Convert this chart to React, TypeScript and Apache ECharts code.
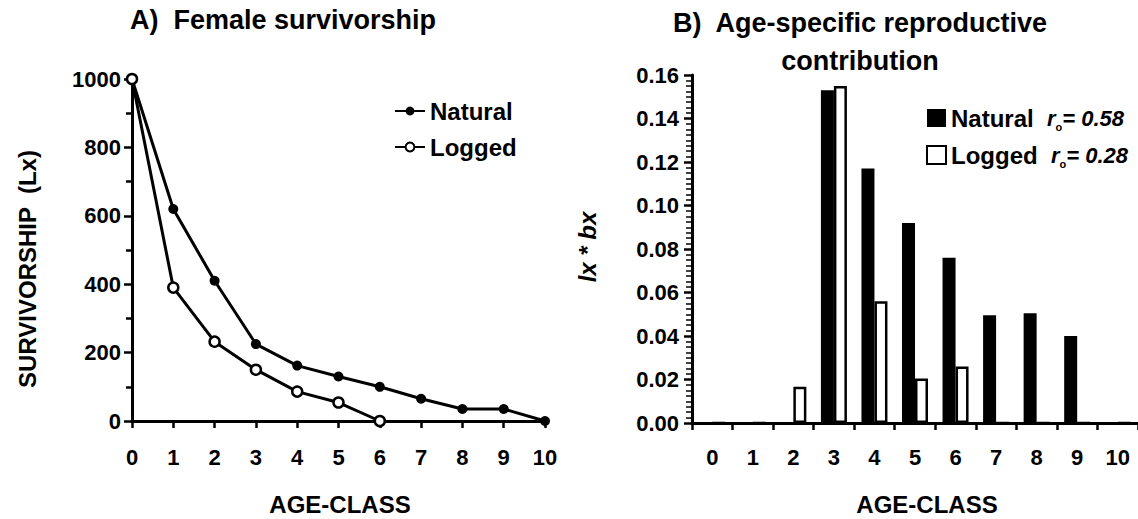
import React, { useEffect, useRef } from "react";
import * as echarts from "echarts";

const ages = [0, 1, 2, 3, 4, 5, 6, 7, 8, 9, 10];
const ageLabels = ["0", "1", "2", "3", "4", "5", "6", "7", "8", "9", "10"];
const naturalLx = [1000, 620, 410, 225, 162, 130, 100, 65, 35, 35, 0];
const loggedLx = [1000, 390, 232, 150, 86, 54, 0];
const naturalLxBx = [0, 0, 0, 0.153, 0.117, 0.092, 0.076, 0.0495, 0.0505, 0.04, 0];
const loggedLxBx = [0, 0, 0.0167, 0.155, 0.056, 0.0205, 0.026, 0, 0, 0, 0];
const rNatural = "0.58";
const rLogged = "0.28";

const FONT = "'Liberation Sans', Arial, sans-serif";

export default function App() {
  const ref = useRef<HTMLDivElement>(null);
  useEffect(() => {
    if (!ref.current) return;
    const chart = echarts.init(ref.current, undefined, { renderer: "svg" });
    const axisLine = { show: true, lineStyle: { color: "#000", width: 3 } };
    const tickLabel = { color: "#000", fontSize: 22, fontWeight: "bold" as const, fontFamily: FONT };
    const option: any = {
      animation: false,
      backgroundColor: "#fff",
      textStyle: { fontFamily: FONT },
      grid: [
        { left: 132, top: 79, width: 413, height: 342 },
        { left: 692, top: 75, right: 0, height: 348 },
      ],
      xAxis: [
        {
          gridIndex: 0,
          type: "value",
          min: 0,
          max: 10,
          interval: 1,
          axisLine,
          axisTick: { show: true, length: 7, lineStyle: { color: "#000", width: 2.5 } },
          axisLabel: { ...tickLabel, margin: 25, formatter: (v: number) => String(v) },
          splitLine: { show: false },
        },
        {
          gridIndex: 1,
          type: "category",
          data: ageLabels,
          boundaryGap: true,
          axisLine: { show: true, onZero: false, lineStyle: { color: "#000", width: 3 } },
          axisTick: { show: true, length: 7, interval: 0, lineStyle: { color: "#000", width: 2.5 } },
          axisLabel: { ...tickLabel, margin: 23, interval: 0 },
          splitLine: { show: false },
        },
      ],
      yAxis: [
        {
          gridIndex: 0,
          type: "value",
          min: 0,
          max: 1000,
          interval: 200,
          axisLine,
          axisTick: { show: true, length: 8, lineStyle: { color: "#000", width: 2.5 } },
          minorTick: { show: true, splitNumber: 2, length: 6, lineStyle: { color: "#000", width: 2.5 } },
          axisLabel: { ...tickLabel, margin: 11, formatter: (v: number) => String(v) },
          splitLine: { show: false },
          minorSplitLine: { show: false },
        },
        {
          gridIndex: 1,
          type: "value",
          min: 0,
          max: 0.16,
          interval: 0.02,
          axisLine: { show: true, onZero: false, lineStyle: { color: "#000", width: 3 } },
          axisTick: { show: true, length: 8, lineStyle: { color: "#000", width: 2.5 } },
          minorTick: { show: true, splitNumber: 8, length: 6, lineStyle: { color: "#000", width: 1.5 } },
          axisLabel: { ...tickLabel, margin: 13, formatter: (v: number) => v.toFixed(2) },
          splitLine: { show: false },
          minorSplitLine: { show: false },
        },
      ],
      legend: [
        {
          orient: "vertical",
          left: 389,
          top: 93,
          itemWidth: 30,
          itemHeight: 11,
          itemGap: 10,
          data: ["Natural", "Logged"],
          textStyle: { color: "#000", fontSize: 24, fontWeight: "bold", fontFamily: FONT, lineHeight: 26 },
          selectedMode: false,
        },
        {
          orient: "vertical",
          left: 921,
          top: 99,
          itemWidth: 19,
          itemHeight: 18,
          itemGap: 9,
          icon: "rect",
          data: ["NaturalB", "LoggedB"],
          selectedMode: false,
          formatter: (name: string) =>
            name === "NaturalB"
              ? `Natural  {r|r}{s|o}{v|= ${rNatural}}`
              : `Logged  {r|r}{s|o}{v|= ${rLogged}}`,
          textStyle: {
            color: "#000",
            fontSize: 24,
            fontWeight: "bold",
            fontFamily: FONT,
            lineHeight: 28,
            rich: {
              r: { fontSize: 22, fontStyle: "italic", fontWeight: "bold", fontFamily: FONT, lineHeight: 28, color: "#000" },
              s: { fontSize: 11, fontWeight: "bold", fontFamily: FONT, lineHeight: 11, padding: [17, 0, 0, 0], color: "#000" },
              v: { fontSize: 22, fontStyle: "italic", fontWeight: "bold", fontFamily: FONT, lineHeight: 28, color: "#000" },
            },
          },
        },
      ],
      series: [
        {
          name: "Natural",
          type: "line",
          xAxisIndex: 0,
          yAxisIndex: 0,
          data: ages.map((a, i) => [a, naturalLx[i]]),
          symbol: "circle",
          symbolSize: 10,
          lineStyle: { color: "#000", width: 3 },
          itemStyle: { color: "#000" },
        },
        {
          name: "Logged",
          type: "line",
          xAxisIndex: 0,
          yAxisIndex: 0,
          data: loggedLx.map((v, i) => [ages[i], v]),
          symbol: "circle",
          symbolSize: 10,
          lineStyle: { color: "#000", width: 3 },
          itemStyle: { color: "#fff", borderColor: "#000", borderWidth: 2.5 },
        },
        {
          name: "NaturalB",
          type: "bar",
          xAxisIndex: 1,
          yAxisIndex: 1,
          data: naturalLxBx,
          barWidth: 13,
          barGap: "0%",
          itemStyle: { color: "#000", borderColor: "#000", borderWidth: 0 },
        },
        {
          name: "LoggedB",
          type: "bar",
          xAxisIndex: 1,
          yAxisIndex: 1,
          data: loggedLxBx,
          barWidth: 13,
          barGap: "0%",
          itemStyle: { color: "#fff", borderColor: "#000", borderWidth: 2.5 },
        },
      ],
      graphic: [
        {
          type: "text",
          x: 283,
          y: 20,
          style: { text: "A)  Female survivorship", fill: "#000", font: `bold 27px ${FONT}`, textAlign: "center", textVerticalAlign: "middle" },
        },
        {
          type: "text",
          x: 860,
          y: 42,
          style: {
            text: "B)  Age-specific reproductive\ncontribution",
            fill: "#000",
            font: `bold 27px ${FONT}`,
            lineHeight: 38,
            textAlign: "center",
            textVerticalAlign: "middle",
          },
        },
        {
          type: "text",
          x: 27,
          y: 269,
          rotation: Math.PI / 2,
          style: { text: "SURVIVORSHIP  (Lx)", fill: "#000", font: `bold 24px ${FONT}`, textAlign: "center", textVerticalAlign: "middle" },
        },
        {
          type: "text",
          x: 340,
          y: 504,
          style: { text: "AGE-CLASS", fill: "#000", font: `bold 24px ${FONT}`, textAlign: "center", textVerticalAlign: "middle" },
        },
        {
          type: "text",
          x: 927,
          y: 504,
          style: { text: "AGE-CLASS", fill: "#000", font: `bold 24px ${FONT}`, textAlign: "center", textVerticalAlign: "middle" },
        },
        {
          type: "text",
          x: 587,
          y: 247,
          rotation: Math.PI / 2,
          style: { text: "lx * bx", fill: "#000", font: `italic bold 24px ${FONT}`, textAlign: "center", textVerticalAlign: "middle" },
        },
      ],
    };
    chart.setOption(option);
    return () => chart.dispose();
  }, []);
  return (
    <div
      ref={ref}
      style={{ position: "fixed", left: 0, top: 0, width: 1138, height: 519, background: "#fff" }}
    />
  );
}
